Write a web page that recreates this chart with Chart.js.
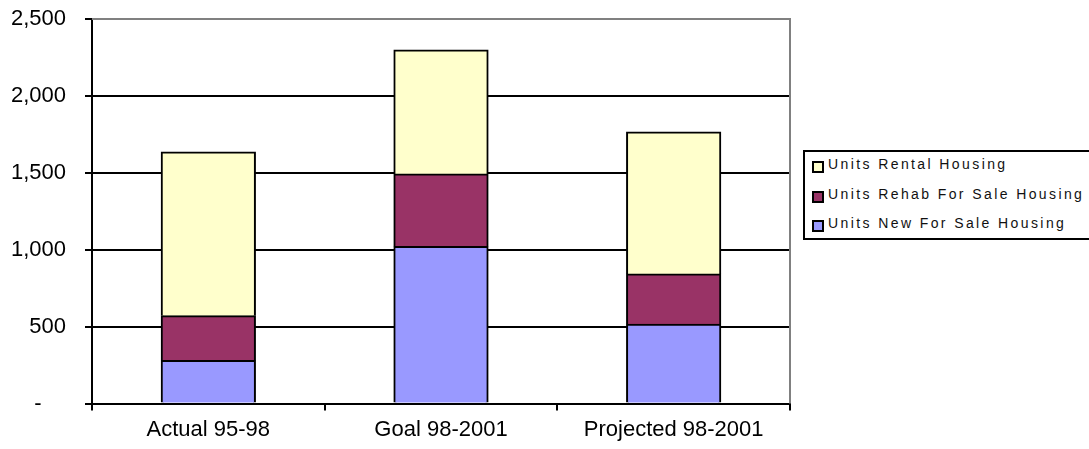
<!DOCTYPE html>
<html>
<head>
<meta charset="utf-8">
<script src="https://cdn.jsdelivr.net/npm/chart.js@4.4.1/dist/chart.umd.min.js"></script>
<style>
  body { margin: 0; background: #fff; }
  #wrap { position: relative; width: 1089px; height: 449px; overflow: hidden; }
  #legend {
    position: absolute; left: 803px; top: 150px; width: 300px; height: 86px;
    border: 2px solid #000; background: #fff;
    font-family: "Liberation Sans", Arial, sans-serif; font-size: 14px; letter-spacing: 2.4px; color: #111;
  }
  #legend ul { list-style: none; margin: -2.5px 0 0 0; padding: 0 0 0 7px; }
  #legend li { display: flex; align-items: center; height: 29.5px; white-space: nowrap; }
  #legend .box { width: 12px; height: 12px; box-sizing: border-box; border: 2px solid #000; margin-right: 4px; position: relative; top: 3px; flex: none; }
</style>
</head>
<body>
<div id="wrap">
  <canvas id="chart" width="1089" height="449"></canvas>
  <div id="legend"></div>
</div>
<script>
const categories = ['Actual 95-98', 'Goal 98-2001', 'Projected 98-2001'];
const unitsNewForSale = [280, 1022, 515];
const unitsRehabForSale = [291, 471, 327];
const unitsRental = [1065, 805, 924];
const yTicks = [0, 500, 1000, 1500, 2000, 2500];

const colors = { rental: '#FFFFCC', rehab: '#993366', newSale: '#9999FF' };
const font = '"Liberation Sans", Arial, sans-serif';

// gray plot-area border on top and right, like the excel original
const plotBorder = {
  id: 'plotBorder',
  beforeDatasetsDraw(chart) {
    const { ctx, chartArea: a } = chart;
    ctx.save();
    ctx.strokeStyle = '#808080';
    ctx.lineWidth = 2;
    ctx.beginPath();
    ctx.moveTo(a.left, a.top);
    ctx.lineTo(a.right, a.top);
    ctx.lineTo(a.right, a.bottom);
    ctx.stroke();
    ctx.restore();
  }
};

const htmlLegend = {
  id: 'htmlLegend',
  afterUpdate(chart) {
    const el = document.getElementById('legend');
    const ul = document.createElement('ul');
    chart.data.datasets.slice().reverse().forEach(ds => {
      const li = document.createElement('li');
      const box = document.createElement('span');
      box.className = 'box';
      box.style.background = ds.backgroundColor;
      li.appendChild(box);
      li.appendChild(document.createTextNode(ds.label));
      ul.appendChild(li);
    });
    el.innerHTML = '';
    el.appendChild(ul);
  }
};

new Chart(document.getElementById('chart'), {
  type: 'bar',
  data: {
    labels: categories,
    datasets: [
      { label: 'Units New For Sale Housing', data: unitsNewForSale, backgroundColor: colors.newSale },
      { label: 'Units Rehab For Sale Housing', data: unitsRehabForSale, backgroundColor: colors.rehab },
      { label: 'Units Rental Housing', data: unitsRental, backgroundColor: colors.rental }
    ].map(ds => ({ ...ds, borderColor: '#000', borderWidth: 2, inflateAmount: 0.5, categoryPercentage: 1, barPercentage: 0.405 }))
  },
  options: {
    responsive: false,
    animation: false,
    layout: { padding: { left: 0, right: 299, top: 19, bottom: 0 } },
    plugins: { legend: { display: false }, tooltip: { enabled: false } },
    scales: {
      x: {
        stacked: true,
        grid: { display: true, drawOnChartArea: false, color: '#000', lineWidth: 2, tickLength: 7 },
        border: { color: '#000', width: 2 },
        ticks: { color: '#000', padding: 6, font: { family: font, size: 22 } }
      },
      y: {
        stacked: true,
        min: 0,
        max: 2500,
        afterBuildTicks: scale => { scale.ticks = yTicks.map(v => ({ value: v })); },
        afterFit: scale => { scale.width = 92; scale.paddingTop = 0; },
        grid: {
          color: c => c.tick && c.tick.value === 2500 ? '#808080' : '#000',
          tickColor: '#000',
          lineWidth: 2,
          tickLength: 7
        },
        border: { color: '#000', width: 2 },
        ticks: {
          color: '#000',
          padding: 19,
          font: { family: font, size: 22 },
          callback: v => v === 0 ? '-    ' : v.toLocaleString('en-US')
        }
      }
    }
  },
  plugins: [plotBorder, htmlLegend]
});
</script>
</body>
</html>
